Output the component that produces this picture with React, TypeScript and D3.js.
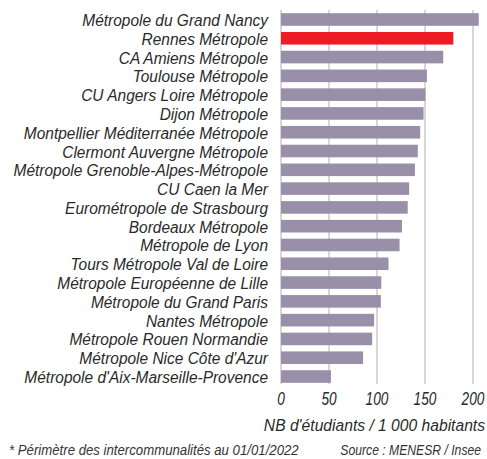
import React, { useRef, useEffect } from "react"
import * as d3 from "d3"

const categories = [
  "Métropole du Grand Nancy",
  "Rennes Métropole",
  "CA Amiens Métropole",
  "Toulouse Métropole",
  "CU Angers Loire Métropole",
  "Dijon Métropole",
  "Montpellier Méditerranée Métropole",
  "Clermont Auvergne Métropole",
  "Métropole Grenoble-Alpes-Métropole",
  "CU Caen la Mer",
  "Eurométropole de Strasbourg",
  "Bordeaux Métropole",
  "Métropole de Lyon",
  "Tours Métropole Val de Loire",
  "Métropole Européenne de Lille",
  "Métropole du Grand Paris",
  "Nantes Métropole",
  "Métropole Rouen Normandie",
  "Métropole Nice Côte d'Azur",
  "Métropole d'Aix-Marseille-Provence",
]
const values = [206, 179.5, 169, 152, 150.5, 148.5, 145, 142.5, 139.5, 133.5, 132, 126, 123.5, 112, 104.5, 104, 97, 95, 85.5, 52]
const highlight = "Rennes Métropole"
const xTicks = [0, 50, 100, 150, 200]
const xTitle = "NB d'étudiants / 1 000 habitants"
const footNote = "* Périmètre des intercommunalités au 01/01/2022"
const source = "Source : MENESR / Insee"

const FONT = "'Liberation Sans', Arial, sans-serif"

// condensed italic text: regular face squeezed horizontally
const label = (g, x, y, txt, size, sx, anchor = "start", fill = "#2a2a2a") =>
  g.append("text")
    .attr("transform", `translate(${x},${y}) scale(${sx},1)`)
    .attr("text-anchor", anchor)
    .attr("font-family", FONT)
    .attr("font-style", "italic")
    .attr("font-size", size)
    .attr("fill", fill)
    .text(txt)

const App = () => {
  const ref = useRef<SVGSVGElement>(null)

  useEffect(() => {
    const svg = d3.select(ref.current)
    svg.selectAll("*").remove()

    const x = d3.scaleLinear().domain([0, 200]).range([281, 473])
    const y = d3.scaleBand<string>()
      .domain(categories)
      .range([10, 386])
      .paddingInner(0.33)
      .paddingOuter(0.17)

    // grid
    svg.append("g")
      .selectAll("line")
      .data(xTicks)
      .join("line")
        .attr("x1", d => x(d)).attr("x2", d => x(d))
        .attr("y1", 10).attr("y2", 384)
        .attr("stroke", "#bdbdbd")
        .attr("stroke-width", 1.2)

    // bars
    svg.append("g")
      .selectAll("rect")
      .data(values)
      .join("rect")
        .attr("x", x(0))
        .attr("y", (d, i) => y(categories[i])!)
        .attr("width", d => x(d) - x(0))
        .attr("height", y.bandwidth())
        .attr("fill", (d, i) => categories[i] === highlight ? "#ed1c24" : "#9a8fa8")

    // category labels
    const lg = svg.append("g")
    categories.forEach(c => {
      label(lg, 268, y(c)! + y.bandwidth() / 2 + 6.5, c, 17, 0.91, "end")
    })

    // tick labels
    const tg = svg.append("g")
    xTicks.forEach(t => {
      label(tg, x(t), 405, String(t), 17.5, 0.78, "middle")
    })

    label(svg, 485, 431, xTitle, 17, 0.92, "end")
    label(svg, 9, 455, footNote, 14.5, 0.91, "start", "#333")
    label(svg, 481, 455, source, 14.5, 0.84, "end", "#333")
  }, [])

  return (
    <div style={{ position: "absolute", left: 0, top: 0 }}>
      <svg ref={ref} width={487} height={459} style={{ display: "block", background: "#fff" }} />
    </div>
  )
}

export default App
